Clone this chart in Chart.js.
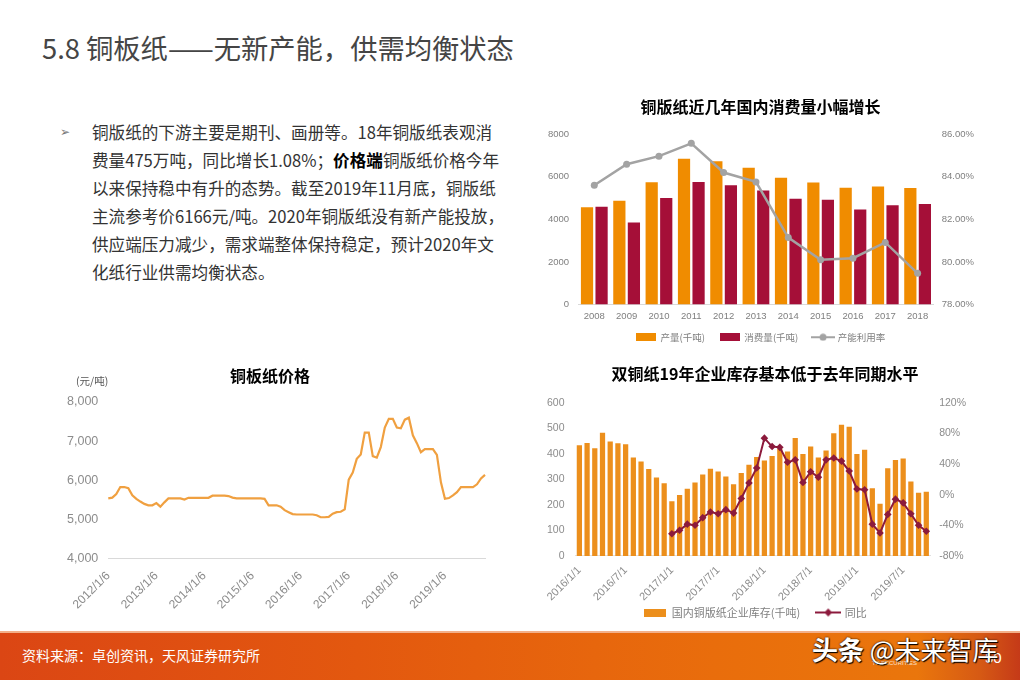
<!DOCTYPE html>
<html><head><meta charset="utf-8">
<script src="https://cdn.jsdelivr.net/npm/chart.js@4.4.1/dist/chart.umd.min.js"></script>
<style>
html,body{margin:0;padding:0;background:#fff;}
body{width:1020px;height:680px;position:relative;overflow:hidden;font-family:'Noto Sans CJK SC','Liberation Sans',sans-serif;}
#title{position:absolute;left:42px;top:28px;font-size:27.3px;color:#454545;white-space:nowrap;line-height:38px;}
#bullet{position:absolute;left:60px;top:118px;font-family:'DejaVu Sans',sans-serif;font-size:12px;line-height:28px;color:#777;}
#body{position:absolute;left:92px;top:118px;font-size:16.6px;line-height:28px;color:#333;white-space:nowrap;}
#body b{color:#000;}
.cv{position:absolute;}
#unitB{position:absolute;left:76px;top:373px;font-size:10.5px;color:#555;}
.ctitle{position:absolute;width:400px;text-align:center;font-size:16px;line-height:21px;font-weight:bold;color:#000;white-space:nowrap;}
#titleB{left:70px;top:365px;}
#titleC{left:565px;top:363px;}
#footer{position:absolute;left:0;top:632px;width:1020px;height:48px;background:linear-gradient(90deg,#db4614 0%,#e3580f 35%,#e96d0c 70%,#ea760c 90%,#d65a14 96%,#c53a18 100%);}
#footline{position:absolute;left:0;top:631px;width:1020px;height:2px;background:#f3b08a;}
#src{position:absolute;left:22px;top:645px;font-size:14px;color:#fff;white-space:nowrap;}
#wm{position:absolute;left:812px;top:630px;font-size:26px;color:#fff;white-space:nowrap;text-shadow:0 0 2px #000,1px 1px 1px #000;}
#wm b{font-weight:bold;}
#pg{position:absolute;left:985px;top:649px;font-size:15px;color:#fff;font-family:'Liberation Sans',sans-serif;}
#logo{position:absolute;left:872px;top:660px;font-size:6px;color:#fde0c8;font-family:'Liberation Sans',sans-serif;}
</style></head>
<body>
<div id="title">5.8 铜板纸——无新产能，供需均衡状态</div>
<div id="bullet">➢</div>
<div id="body">铜版纸的下游主要是期刊、画册等。18年铜版纸表观消<br>费量475万吨，同比增长1.08%；<b>价格端</b>铜版纸价格今年<br>以来保持稳中有升的态势。截至2019年11月底，铜版纸<br>主流参考价6166元/吨。2020年铜版纸没有新产能投放，<br>供应端压力减少，需求端整体保持稳定，预计2020年文<br>化纸行业供需均衡状态。</div>

<canvas id="cA" class="cv" width="470" height="260" style="left:530px;top:92px;width:470px;height:260px;"></canvas>
<canvas id="cB" class="cv" width="485" height="263" style="left:23px;top:365px;width:485px;height:263px;"></canvas>
<canvas id="cC" class="cv" width="493" height="266" style="left:507px;top:362px;width:493px;height:266px;"></canvas>
<div id="unitB">(元/吨)</div>
<div id="titleB" class="ctitle">铜板纸价格</div>
<div id="titleC" class="ctitle">双铜纸19年企业库存基本低于去年同期水平</div>

<div id="footer"></div>
<div id="footline"></div>
<div id="src">资料来源：卓创资讯，天风证券研究所</div>
<div id="logo">TF SECURITIES</div>
<div id="pg">50</div>
<div id="wm"><b>头条</b> @未来智库</div>

<script>
// ---------- Chart A data ----------
const yearsA = ['2008','2009','2010','2011','2012','2013','2014','2015','2016','2017','2018'];
const production = [4570,4870,5740,6850,6730,6420,5960,5730,5490,5550,5470];
const consumption = [4590,3850,5000,5760,5600,5360,4970,4920,4460,4670,4720];
const utilization = [83.60,84.59,84.97,85.57,84.20,83.76,81.15,80.11,80.18,80.92,79.47];
const ticksA_left = [0,2000,4000,6000,8000];
const ticksA_right = [78,80,82,84,86];

// ---------- Chart B data (monthly, 2012/1/6 .. 2019/11/6) ----------
const priceYears = [2012,2013,2014,2015,2016,2017,2018,2019];
const price = [
 5540,5560,5650,5830,5830,5800,5620,5530,5460,5400,5365,5365,
 5420,5330,5440,5540,5540,5540,5540,5510,5555,5555,5555,5555,
 5555,5555,5610,5610,5610,5610,5600,5560,5540,5540,5540,5540,
 5540,5540,5540,5530,5365,5365,5365,5330,5240,5190,5140,5130,
 5130,5130,5130,5130,5110,5060,5060,5070,5150,5190,5200,5260,
 6020,6200,6550,6660,7220,7220,6620,6580,6850,7350,7570,7570,
 7350,7330,7550,7600,7150,6950,6720,6800,6800,6800,6650,5950,
 5530,5550,5620,5700,5830,5830,5830,5830,5900,6050,6140];
const ticksB = [4000,5000,6000,7000,8000];

// ---------- Chart C data (monthly, 2016/1/1 .. 2019/10/1) ----------
const invYears = [2016,2017,2018,2019];
const inventory = [
 434,443,422,483,449,442,438,386,370,341,308,285,
 214,239,263,288,319,342,331,312,281,325,358,388,
 374,392,420,410,463,400,429,386,414,481,515,507,
 400,417,265,205,344,376,382,292,248,252];
const yoy = [
 null,null,null,null,null,null,null,null,null,null,null,null,
 -51,-46.5,-38.5,-40,-30,-22.6,-24.8,-19.5,-24,-5,15.5,35,
 74,63,62,42.5,45.6,16,30,23,45.6,48,44,31,
 7.5,6.6,-38.5,-50,-25.7,-5.8,-10.6,-24.8,-40,-47.8];
const ticksC_left = [0,100,200,300,400,500,600];
const ticksC_right = [-80,-40,0,40,80,120];

// labels
const priceLabels = [];
priceYears.forEach(y=>{ for(let m=1;m<=12;m++){ if(priceLabels.length<price.length) priceLabels.push(y+'/'+m+'/6'); } });
const invLabels = [];
invYears.forEach(y=>{ for(let m=1;m<=12;m++){ if(invLabels.length<inventory.length) invLabels.push(y+'/'+m+'/1'); } });

const ff = "'Liberation Sans','Noto Sans CJK SC',sans-serif";
const cjk = "'Noto Sans CJK SC','Liberation Sans',sans-serif";
Chart.defaults.font.family = ff;
Chart.defaults.color = '#7f7f7f';
Chart.defaults.animation = false;
Chart.defaults.plugins.tooltip.enabled = false;

function boxImg(color,w,h){const c=document.createElement('canvas');c.width=w;c.height=h;const x=c.getContext('2d');x.fillStyle=color;x.fillRect(0,0,w,h);return c;}
function lineImg(color,w,h,r,shape){const c=document.createElement('canvas');c.width=w;c.height=h;const x=c.getContext('2d');
 x.strokeStyle=color;x.lineWidth=2;x.beginPath();x.moveTo(0,h/2);x.lineTo(w,h/2);x.stroke();x.fillStyle=color;x.beginPath();
 if(shape==='diamond'){x.moveTo(w/2,h/2-r);x.lineTo(w/2+r,h/2);x.lineTo(w/2,h/2+r);x.lineTo(w/2-r,h/2);x.closePath();}
 else{x.arc(w/2,h/2,r,0,Math.PI*2);} x.fill();return c;}

function legendGen(imgs,gap){return function(chart){const items=Chart.defaults.plugins.legend.labels.generateLabels(chart);
 items.sort((a,b)=>a.datasetIndex-b.datasetIndex);
 items.forEach((it,k)=>{it.pointStyle=imgs[it.datasetIndex]; if(k<items.length-1) it.text=it.text+gap;}); return items;};}

const noGrid={display:false};

// ---------- Chart A ----------
new Chart(document.getElementById('cA'),{
 data:{labels:yearsA,datasets:[
  {type:'bar',label:'产量(千吨)',data:production,backgroundColor:'#f08c00',yAxisID:'y',order:1,categoryPercentage:0.9,barPercentage:0.84},
  {type:'bar',label:'消费量(千吨)',data:consumption,backgroundColor:'#a50f38',yAxisID:'y',order:1,categoryPercentage:0.9,barPercentage:0.84},
  {type:'line',label:'产能利用率',data:utilization,yAxisID:'y1',order:0,borderColor:'#a3a3a3',backgroundColor:'#a3a3a3',borderWidth:2.5,pointRadius:3.5,pointBackgroundColor:'#a3a3a3',pointBorderWidth:0,tension:0}
 ]},
 options:{responsive:false,
  layout:{padding:{left:17,right:26,top:0,bottom:0}},
  plugins:{
   title:{display:true,text:'铜版纸近几年国内消费量小幅增长',color:'#000',font:{family:cjk,size:16,weight:'bold'},padding:{top:5,bottom:18}},
   legend:{position:'bottom',labels:{usePointStyle:true,pointStyleWidth:20,boxHeight:8,color:'#7f7f7f',font:{family:cjk,size:9.5},padding:10.5,
     generateLabels:legendGen([boxImg('#f08c00',20,8),boxImg('#a50f38',20,8),lineImg('#a3a3a3',24,8,3.5,'circle')],'  ')}}
  },
  scales:{
   x:{grid:{display:false,tickLength:6},border:{color:'#d9d9d9'},ticks:{font:{size:9.5},color:'#7f7f7f',padding:0}},
   y:{min:0,max:8000,afterBuildTicks:s=>{s.ticks=ticksA_left.map(v=>({value:v}));},grid:noGrid,border:{display:false},ticks:{font:{size:9.5},color:'#7f7f7f',padding:1,callback:v=>String(v)}},
   y1:{position:'right',min:78,max:86,afterBuildTicks:s=>{s.ticks=ticksA_right.map(v=>({value:v}));},grid:noGrid,border:{display:false},ticks:{font:{size:9.5},color:'#7f7f7f',padding:0,callback:v=>v.toFixed(2)+'%'}}
  }}
});

// ---------- Chart B ----------
new Chart(document.getElementById('cB'),{
 type:'line',
 data:{labels:priceLabels,datasets:[{label:'铜板纸价格',data:price,borderColor:'#f0a040',borderWidth:2.2,pointRadius:0,tension:0,fill:false}]},
 options:{responsive:false,
  layout:{padding:{left:42,right:23,top:37,bottom:14}},
  plugins:{legend:{display:false},title:{display:false}},
  scales:{
   x:{grid:noGrid,border:{color:'#d9d9d9',width:1},ticks:{autoSkip:false,maxRotation:45,minRotation:45,font:{size:12},color:'#8c8c8c',padding:2,
      callback:function(v,i){return i%12===0?priceLabels[i]:'';}}},
   y:{min:4000,max:8000,afterBuildTicks:s=>{s.ticks=ticksB.map(v=>({value:v}));},grid:noGrid,border:{display:false},
      ticks:{font:{size:12.5},color:'#8c8c8c',padding:2,callback:v=>v.toLocaleString('en-US')}}
  }}
});

// ---------- Chart C ----------
new Chart(document.getElementById('cC'),{
 data:{labels:invLabels,datasets:[
  {type:'bar',label:'国内铜版纸企业库存(千吨)',data:inventory,backgroundColor:'#ec8f1c',yAxisID:'y',order:1,categoryPercentage:1,barPercentage:0.68},
  {type:'line',label:'同比',data:yoy,yAxisID:'y1',order:0,borderColor:'#8c1a3c',backgroundColor:'#8c1a3c',borderWidth:2,pointStyle:'rectRot',pointRadius:3.8,pointBorderWidth:0,pointBackgroundColor:'#8c1a3c',tension:0,spanGaps:false}
 ]},
 options:{responsive:false,
  layout:{padding:{left:37,right:33,top:41,bottom:0}},
  plugins:{
   title:{display:false},
   legend:{position:'bottom',labels:{usePointStyle:true,pointStyleWidth:22,boxHeight:8,color:'#7f7f7f',font:{family:cjk,size:11},padding:3.5,
     generateLabels:legendGen([boxImg('#ec8f1c',22,8),lineImg('#8c1a3c',26,10,4,'diamond')],'\u3000 ')}}
  },
  scales:{
   x:{grid:noGrid,border:{color:'#e0e0e0'},ticks:{autoSkip:false,maxRotation:45,minRotation:45,font:{size:11},color:'#8c8c8c',padding:0,
      callback:function(v,i){return i%6===0?invLabels[i]:'';}}},
   y:{min:0,max:600,afterBuildTicks:s=>{s.ticks=ticksC_left.map(v=>({value:v}));},grid:noGrid,border:{display:false},ticks:{font:{size:10.5},color:'#8c8c8c',padding:3}},
   y1:{position:'right',min:-80,max:120,afterBuildTicks:s=>{s.ticks=ticksC_right.map(v=>({value:v}));},grid:noGrid,border:{display:false},ticks:{font:{size:10.5},color:'#8c8c8c',padding:1,callback:v=>v+'%'}}
  }}
});
</script>
</body></html>
